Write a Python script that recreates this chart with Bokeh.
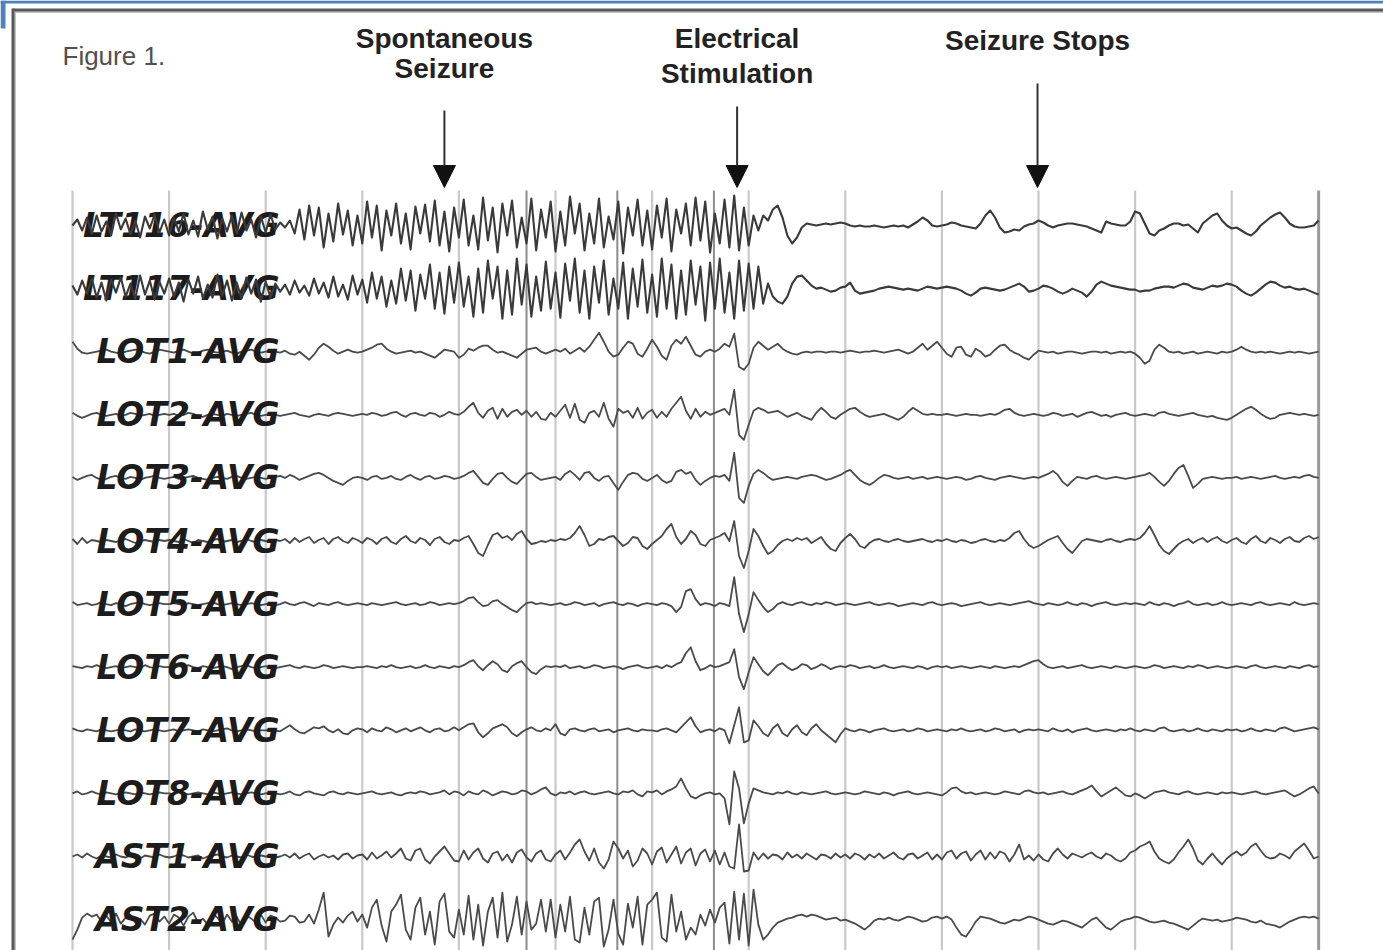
import numpy as np
from bokeh.plotting import figure
from bokeh.models import Range1d, Arrow, NormalHead
from bokeh.core.properties import value
from bokeh.embed import file_html
from bokeh.resources import INLINE

# ---------------- data ----------------
FS = 20  # samples per second (one sub-list = one second of trace)
CHANNELS = ["LT116-AVG", "LT117-AVG", "LOT1-AVG", "LOT2-AVG", "LOT3-AVG", "LOT4-AVG",
            "LOT5-AVG", "LOT6-AVG", "LOT7-AVG", "LOT8-AVG", "AST1-AVG", "AST2-AVG"]

LT116 = [
    [0, 6, -5, 8, -8, 10, -6, 4, -10, 12, -4, 7, -9, 5, -12, 9, -3, 11, -7, 6],
    [-10, 8, -6, 12, -9, 5, -11, 14, -4, 9, -13, 7, -6, 10, -8, 13, -5, 6, -12, 9],
    [-7, 11, -4, 3, -2, 5, -8, 16, -14, 20, -10, 18, -22, 12, -16, 22, -9, 15, -20, 10],
    [-18, 24, -12, 20, -25, 15, -10, 22, -18, 12, -24, 19, -8, 21, -16, 25, -20, 14, -26, 18],
    [-12, 26, -20, 10, -24, 28, -15, 18, -27, 22, -10, 25, -22, 8, -18, 27, -25, 16, -12, 24],
    [-26, 14, -20, 29, -8, 22, -25, 12, -18, 27, -22, 9, -14, 24, -28, 18, -10, 26, -20, 15],
    [-24, 20, -12, 27, -26, 16, -8, 22, -20, 28, -15, 24, -27, 12, -18, 26, -22, 30, -25, 18],
    [-20, 10, -5, 10, 5, 16, 20, 8, -10, -18, -12, -2, 2, 1, 0, 1, 2, 1, 2, 3],
    [2, 0, -1, 0, -1, -1, 0, -1, -2, -1, 0, -1, 0, -2, 1, 4, 8, 5, 0, -1],
    [0, 1, 3, 2, 0, -1, -2, -3, 2, 10, 15, 8, -2, -7, -6, -4, -5, -1, 1, 2],
    [5, 3, 0, -2, 0, 1, 2, 2, 1, 0, -1, -3, -5, -7, 4, 2, 1, 0, 0, 4],
    [14, 12, 2, -8, -10, -5, -3, 0, 2, 2, 0, 1, -3, -7, 2, 6, 10, 12, 5, 0],
    [-3, -2, -5, -8, -10, -6, 0, 4, 8, 11, 13, 8, 2, -1, -2, -2, -1, 0, 5],
]
LT117 = [
    [3, -6, 8, -5, 10, -9, 6, -12, 9, -4, 11, -8, 5, -10, 13, -6, 8, -11, 7, -5],
    [10, -8, 6, -13, 9, -5, 12, -10, 4, -9, 14, -7, 8, -12, 6, -10, 11, -5, 9, -13],
    [7, -9, 5, -3, 4, -6, 8, -4, 3, -7, 10, -5, 6, -9, 12, -8, 4, -11, 13, -6],
    [9, -14, 16, -10, 12, -18, 8, -15, 20, -12, 18, -22, 14, -10, 24, -20, 16, -25, 22, -14],
    [26, -18, 12, -28, 20, -24, 28, -10, 22, -30, 18, -26, 30, -16, 24, -28, 12, -22, 27, -20],
    [16, -29, 25, -12, 30, -24, 18, -30, 22, -14, 28, -26, 10, -20, 26, -30, 20, -18, 29, -24],
    [14, -28, 30, -20, 24, -30, 18, -26, 28, -16, 22, -32, 26, -20, 30, -24, 16, -30, 28, -22],
    [25, -20, 22, -15, 5, -8, -13, -15, -8, 5, 12, 13, 8, 3, 0, 1, -1, -3, -2, 1],
    [2, 6, -2, -5, -4, -3, -2, 0, 1, 2, 1, 0, -1, 0, -1, -2, 0, 2, 1, 0],
    [1, 2, 1, 0, -2, -5, -7, -4, 0, 1, 0, -1, -2, -1, 1, 3, 5, 2, -3, -2],
    [0, 3, 2, 0, -3, -5, -3, 0, -2, -4, -8, -3, 4, 7, 5, 3, 2, 1, 0, -1],
    [-1, -3, -2, -2, 0, 1, 2, 2, 1, 3, 5, 4, 1, 0, -1, 1, 3, 2, 3, 5],
    [4, 2, -2, -5, -7, -4, 0, 4, 7, 6, 3, 1, 2, 0, -1, 0, -2, -4, -6],
]
LOT1 = [
    [10, 3, -1, -2, -1, 0, 1, 2, 0, -1, -2, 0, 1, 2, 1, -1, -2, 0, 2, 1],
    [0, -1, 1, 2, 0, -2, -1, 1, 2, 0, -1, 0, 1, -1, -2, 0, 1, 2, 0, -1],
    [0, 1, 0, -1, 1, -2, -3, 0, -4, -8, -3, 4, 8, 5, 1, -2, 0, 2, 0, -1],
    [0, 2, 4, 7, 8, 3, 0, -2, -1, 0, 1, -1, 0, -2, -4, -6, -2, 2, 1, 0],
    [-6, -3, 3, 1, 4, 6, 6, 2, -1, 0, -2, -4, -6, -2, 2, 3, 4, 0, -2, 0],
    [2, 0, 3, -2, 1, 4, 0, 5, 12, 19, 10, 0, -5, -3, 4, 10, 8, -2, -5, 3],
    [12, 5, -4, -8, 6, 12, 8, 15, 6, -3, -5, 0, 2, 0, 3, 8, 5, 18, -15, -18],
    [-12, 4, 10, 6, 2, 5, 8, 3, 0, -2, -3, -1, 0, -1, 0, 0, -1, 0, 0, -1],
    [0, 1, 0, -1, 0, 0, 1, 0, -1, 0, 1, 2, 0, -2, 0, 4, 8, 2, 6, 10],
    [4, -2, -5, 4, 5, -3, -5, 3, 0, -5, -3, 2, 6, 7, 2, -1, -3, -6, -8, -3],
    [1, 0, -1, 0, -2, -1, 0, 0, -1, -2, -1, 0, 0, -1, 0, -2, -1, 0, -1, 0],
    [-2, -6, -12, -9, 2, 7, 4, 0, -1, 0, -2, -1, 0, -2, -1, 0, -1, -2, 0, -1],
    [0, 2, 5, 2, 0, -1, 0, -1, 0, -1, -2, -1, 0, -1, 0, -1, -2, -1, 0],
]
LOT2 = [
    [2, -1, -3, -1, 1, 2, 0, -1, 0, 1, -1, 0, 2, 1, -1, 0, 1, -1, 0, 1],
    [0, 1, -1, 0, 2, 1, -1, -2, 0, 1, 0, -1, 1, 0, -1, 0, 1, 2, 0, -1],
    [0, 1, 0, -1, 0, 1, 2, 0, -1, -2, 0, 1, 0, -1, 1, 2, 1, 0, -1, 0],
    [1, 0, 2, 1, -1, 0, 2, 3, 0, -2, 1, 2, 0, -1, 2, 1, -2, 0, 3, 1],
    [0, 3, 8, 12, 2, -3, 4, 7, -4, 6, -2, 3, 5, 0, 4, -2, 3, -4, -5, 2],
    [-2, 4, 10, -3, 11, -5, -8, 2, 4, -2, 12, -4, -12, 6, 2, 4, -3, 7, -4, 2],
    [5, -3, 3, -2, 6, 12, 18, 4, -4, 6, -2, 3, 0, 2, 4, 6, 0, 25, -20, -25],
    [-10, 4, 7, 5, 2, 3, 4, 1, -2, 0, 2, -1, -3, -5, 2, 7, 3, -2, -4, 0],
    [3, 6, 7, 3, 0, -2, -1, 0, 1, -1, -3, -5, -2, 3, 7, 4, 1, 0, 1, 0],
    [0, 1, 0, -1, 0, 1, 0, 0, -1, 0, 1, 0, 2, 5, 6, 2, 0, -1, 0, 1],
    [0, -1, 0, 2, 1, -1, 0, 1, -2, 0, 2, 3, 1, -1, 0, -2, 0, 1, 2, 0],
    [-1, 0, 1, 0, -1, 2, 3, 1, 0, -1, 0, 1, 2, 0, -1, -2, -1, -3, -4, -5],
    [-3, 0, 3, 6, 8, 5, 1, -2, -4, -3, 0, 1, 2, 1, 0, 1, 0, -1, 0],
]
LOT3 = [
    [1, -2, 0, 2, 3, 0, -2, -1, 1, 2, 0, -1, 1, 0, -2, 0, 1, 2, 0, -1],
    [0, 1, -1, 0, 1, 2, 0, -1, -2, 0, 1, 0, -1, 1, 2, 0, -1, 0, 1, 0],
    [-1, 0, 1, 2, 0, 3, 1, -2, 0, 2, 4, 5, 3, 0, -3, -5, -7, -3, 0, 1],
    [0, -2, 1, 2, -1, 0, 2, -1, -2, 1, 3, 0, -2, 1, 2, -1, 0, 2, 1, -1],
    [0, 2, 5, 7, 1, -5, -7, -1, 4, 5, 0, -4, -6, -1, 4, 5, 1, -2, -1, 0],
    [1, -2, 4, 7, 3, -2, 5, 6, 0, -3, 1, 2, -5, -12, -4, 3, 5, 4, -1, -3],
    [0, 3, -2, -5, -3, 6, 8, 4, 6, -2, -7, -3, 0, 2, 1, 3, -3, 25, -20, -25],
    [-8, 4, 8, 5, 1, -2, -1, 0, 1, 0, -1, 1, 2, 3, 2, 0, -2, -1, 1, 3],
    [6, 8, 3, -2, -5, -7, -4, 0, 3, 2, 0, -1, 0, 1, -1, 0, 1, -1, 0, 1],
    [0, -1, 0, 1, 0, -2, -1, 1, 2, 0, -1, -2, 0, 1, 2, 1, 0, -1, 0, 1],
    [0, 2, 4, 7, 3, -4, -8, -3, 1, 0, -1, 1, 2, 0, -1, 0, 1, 0, -1, 0],
    [1, 2, 3, 5, 1, -4, -8, -3, 4, 10, 13, 2, -10, -6, -1, 0, 1, 0, -1, 0],
    [0, 1, -1, 0, 1, 0, -1, 0, 1, 2, 0, -1, 0, 1, 0, 2, 3, 1, 0],
]
LOT4 = [
    [2, -3, 3, -2, 1, 0, -1, 1, 0, -1, 1, 2, 0, -2, 0, 1, 0, -1, 1, 0],
    [1, 0, -1, 2, 0, -2, 1, 0, -1, 1, 2, -1, 0, 1, -1, 0, 2, 0, -1, 1],
    [0, -1, 1, 0, 2, -2, 3, -1, 2, 4, -2, 1, 3, -3, 2, 4, 0, -2, 3, 1],
    [-2, 3, 1, -3, 2, 4, -1, -3, 2, 5, 0, -2, 3, 1, -4, 2, 4, -1, -3, 1],
    [0, 3, 5, -3, -12, -15, -4, 6, 8, 3, 5, 1, 7, 10, 2, -3, -2, 0, -1, 1],
    [0, 2, 1, 3, 8, 15, 6, -5, -3, 2, 1, 4, 5, 0, -5, -2, 4, 3, -5, -8],
    [-3, 1, 5, 12, 17, 4, -3, 2, 10, 6, -3, -5, 1, 3, 5, 8, 0, 20, -15, -27],
    [-10, 12, 5, -5, -13, -10, -4, 0, 2, 0, 3, 1, 3, -2, 1, 4, -3, -8, -10, -2],
    [3, 7, 2, -5, -7, -2, 1, 2, 0, -1, 1, 2, 0, -1, 0, 1, 2, 0, -1, 1],
    [0, 2, 0, -1, 1, 0, -2, -1, 1, 2, 0, -1, 1, 0, 3, 8, 10, 2, -4, -7],
    [-5, -2, 1, 3, 5, -2, -8, -12, -6, 0, 2, 1, 0, -1, 1, 2, 0, -1, 1, 2],
    [1, 3, 8, 15, 6, -4, -10, -13, -8, -3, 0, 2, -2, 1, 3, -1, 2, 4, 0, -2],
    [1, 3, -1, -3, 2, 5, 0, -2, 3, 1, -2, 2, 4, 0, -1, 3, 5, 2, 4],
]
LOT5 = [
    [2, -1, 0, 1, -1, 0, 2, 0, -1, 1, 0, -2, 0, 1, 2, 0, -1, 0, 1, 0],
    [0, 1, 0, -1, 1, 0, -1, 0, 1, 2, 0, -1, 0, 1, 0, -1, 0, 1, 0, -1],
    [0, 1, -1, 0, 2, 0, -1, 1, 2, 0, -2, 1, 0, -1, 1, 2, 0, -1, 0, 1],
    [0, -1, 1, 0, -1, 0, 1, 2, 0, -1, 0, 1, -1, 0, 2, 1, -1, 0, 1, 0],
    [1, 3, 6, 7, 2, -2, -1, 3, 4, 0, -3, -6, -8, -3, 1, 2, 0, 1, 0, -1],
    [0, 1, -1, 0, 2, 1, -1, 0, 1, -2, 0, 1, 2, 0, -1, 1, 0, -2, 0, 1],
    [0, -1, 1, 0, -2, -8, -3, 13, 15, 5, -1, 1, 0, -2, 1, 0, -2, 27, -10, -28],
    [-10, 12, 4, -3, -8, -5, 0, 2, 0, -1, 1, 2, 0, -1, 1, 0, 2, 1, -1, 0],
    [1, 0, -1, 0, 1, 2, 0, -1, 0, 1, 0, -2, -1, 0, 1, 0, -1, 1, 2, 0],
    [-1, 0, 1, 0, -2, -1, 0, 1, 2, 0, -1, 0, 1, 0, -1, 0, 1, 2, 3, 1],
    [0, -1, 1, 0, -1, 0, 2, 0, -1, 1, 0, -2, 0, 1, 2, 0, -1, 0, 1, 0],
    [1, 0, -1, 2, 0, -1, 1, 0, -2, 0, 1, 3, 0, -1, 0, 1, -1, 0, 2, 0],
    [-1, 0, 1, 0, -1, 1, 2, 0, -1, 0, 1, 0, -1, 2, 0, -1, 0, 1, 0],
]
LOT6 = [
    [1, 0, -1, 1, 0, 2, 0, -1, 0, 1, -1, 0, 1, 0, -1, 2, 0, -1, 1, 0],
    [0, -1, 1, 0, 2, 0, -1, 1, 0, -1, 0, 1, 0, -2, 0, 1, 2, 0, -1, 0],
    [1, 0, -1, 0, 1, 2, 0, -1, 1, 0, -1, 0, 2, 1, -1, 0, 1, 0, -1, 0],
    [0, 1, 0, -1, 1, 0, 2, 0, -1, 0, 1, -1, 0, 2, 0, -1, 1, 0, -1, 1],
    [0, 2, 5, 7, 1, -3, 2, 6, 3, -3, -5, 1, 4, 6, 0, -5, -7, -2, 1, 0],
    [1, 0, 2, -1, 0, 1, -1, 0, 2, 1, -1, 0, 1, 0, -2, 0, 1, 2, 0, -1],
    [0, 1, -1, 2, 0, 3, 5, 14, 20, 6, -3, -1, 2, 0, 1, 3, 5, 18, -10, -22],
    [-5, 10, 3, -4, -8, -3, 2, 4, 0, -3, -1, 3, 2, -2, 0, 3, 1, -2, 0, 1],
    [0, 2, 1, -1, 0, 1, -1, 0, 2, 0, -1, 0, 1, 0, -1, 1, 0, -2, 0, 1],
    [0, 1, -1, 0, 1, 0, -1, 0, 1, 0, -1, 1, 0, -1, 0, 1, 0, 2, 4, 6],
    [7, 3, 0, -1, 0, 1, -1, 0, 1, 2, 0, -1, 0, 1, 0, -1, 1, 0, -1, 0],
    [1, 0, -1, 0, 2, 1, -1, 0, 1, 0, -1, 1, 0, 2, 1, -1, 0, 1, 0, -1],
    [0, 1, 0, -1, 1, 2, 0, -1, 0, 1, 0, -1, 1, 0, -1, 1, 2, 0, 1],
]
LOT7 = [
    [2, 0, -1, 1, 0, -1, 1, 0, -1, 0, 1, 0, -1, 1, 0, -1, 0, 1, 0, -1],
    [0, 1, -1, 0, 1, 0, -1, 1, 0, -1, 0, 1, 2, 0, -1, 0, 1, 0, -1, 0],
    [0, 1, 0, -1, 2, 5, 1, -2, -3, 0, 3, 2, 4, 0, -2, 1, -3, -4, 0, 2],
    [1, -2, 2, 0, -1, 3, 1, -2, 0, 2, -1, 1, 3, 0, -2, 1, 2, -1, 0, 3],
    [0, 3, 6, 7, -2, -7, -3, 2, 4, 6, 3, -3, -6, -2, 1, 3, 0, -1, 2, 0],
    [6, -3, -5, 1, 2, 0, -1, 1, 2, -1, 0, 1, -2, 0, 1, 2, 0, -1, 1, 0],
    [0, -1, 1, 2, 0, -2, 3, 8, 13, 4, -2, 0, 1, -1, 2, 0, -13, 5, 23, -12],
    [-10, 10, 4, -3, -6, 2, 6, -3, -6, 1, 5, -2, -5, 2, 6, 0, -4, -8, -12, -4],
    [2, 0, -1, 1, 0, -2, 0, 1, 2, 0, -1, 0, 1, -1, 0, 2, 1, -1, 0, 1],
    [0, -1, 1, 0, 2, 0, -1, 0, 1, -1, 0, 2, 1, -1, 0, 1, -2, 0, 1, 0],
    [1, 0, -1, 2, 0, -1, 1, -2, 0, 1, 2, 0, -1, 0, 1, 0, -1, 1, 0, 2],
    [0, -1, 1, 0, -1, 2, 3, 0, -1, 0, 1, -1, 0, 2, 0, -1, 1, 0, -1, 1],
    [0, 1, -1, 0, 2, 0, -1, 1, 0, -1, 2, 3, 1, -1, 0, 1, 2, 3, 1],
]
LOT8 = [
    [0, 2, -1, 0, 2, 0, -1, 1, 0, -1, 0, 1, 0, -1, 1, 0, -1, 0, 1, 0],
    [0, -1, 1, 0, -1, 0, 1, 0, -1, 1, 0, -1, 0, 1, 0, -1, 0, 1, 0, -1],
    [0, 1, 0, -1, 0, 2, -1, -2, 1, 2, 0, -1, -2, 1, 2, 0, -1, 1, 0, -1],
    [0, 1, 2, 0, -1, 0, 1, -1, -2, 0, 1, 0, 2, 1, -1, 0, 1, 3, -1, 2],
    [1, -2, 2, 0, -1, 3, 1, -2, 0, 2, 1, -1, 0, 3, 2, -1, 1, 4, 6, 0],
    [-2, 1, 0, 2, -1, 1, 2, 0, -1, 0, 1, 2, 0, -1, 2, 1, 3, -1, -3, 2],
    [1, 3, -1, 2, 4, 7, 15, 5, -3, -5, -2, 0, 1, -1, 0, -5, -31, 22, 5, -30],
    [-10, 5, 3, 1, 0, -1, 1, 0, 2, 0, -1, 1, 0, -1, 0, 1, 2, 0, -1, 0],
    [1, 0, -1, 0, 2, 1, 0, -1, 1, 0, -2, 0, 1, 2, 0, -1, 0, 1, 0, -1],
    [-2, 1, 5, 6, 2, 0, 1, -1, 0, 1, 0, -1, 0, 2, 1, 0, -1, 2, 3, 1],
    [0, 1, -1, 0, 1, 2, 0, -1, 1, 3, 5, 8, 2, -3, 0, 3, 6, 2, -2, -3],
    [0, -2, -5, -2, 1, 2, 3, 1, 0, -1, 1, 2, 0, -1, 0, 1, 0, -1, 1, 0],
    [1, 0, -1, 0, 1, 2, 0, -1, 0, 1, 2, 3, 0, -3, -1, 2, 5, 7, 0],
]
AST1 = [
    [0, 2, -1, 3, 0, -2, 1, 0, -1, 2, 0, -1, 1, 0, -2, 1, 0, -1, 2, 0],
    [-1, 0, 2, 1, -1, 0, 1, -2, 0, 1, 2, 0, -1, 1, 0, -1, 2, 0, -1, 1],
    [0, 1, -1, 0, 2, -1, 3, -2, 1, 3, -3, 0, 2, -1, 1, -3, 2, 3, -2, 1],
    [2, -3, 4, -2, 1, 5, -1, 3, 8, -2, -4, 6, 8, -3, -7, 0, 5, 10, 3, -4],
    [-5, 6, -3, 4, 8, -2, -6, 3, 5, -4, 2, -6, 4, 7, -1, -5, 3, 6, -3, -5],
    [2, 6, -3, 4, 12, 17, 5, -4, 8, -6, -12, -3, 15, 8, -2, 6, -10, -4, 8, 3],
    [-8, 5, 9, -6, 2, 10, -7, 4, 8, -9, 3, 7, -5, 6, -8, 4, -10, -12, 32, -15],
    [-14, 4, -3, 3, -2, 2, 1, -3, 4, -1, 2, -2, 3, 0, -3, 2, 1, -2, 3, -1],
    [2, -2, 3, 1, -3, 2, -1, 3, -2, 1, 4, -1, -3, 2, 3, -2, 1, 4, -3, 2],
    [-3, 4, 6, -2, 3, 5, -4, 2, 6, -3, 4, -2, 5, 3, -5, 2, 12, -3, 1, -4],
    [2, -3, -5, 3, 8, 2, -2, 3, 1, -1, 2, 4, 0, -2, 3, 1, -3, -5, -2, 4],
    [6, 10, 12, 15, 5, -2, -5, -7, -3, 4, 10, 17, 8, -4, -8, -2, 3, -3, -8, -2],
    [2, 5, 1, 4, 10, 13, 6, 0, -2, -1, 3, 1, -2, 5, 9, 13, 6, -2, 0],
]
AST2 = [
    [-20, -10, 2, 6, 3, 5, -2, 4, -3, 6, -4, 2, 5, -3, 1, -5, 4, 6, -2, 3],
    [-4, 5, 2, -6, 3, 7, -3, 1, -5, 6, 2, -4, 5, -2, 3, -6, 4, 1, -3, 5],
    [-3, 4, 2, -2, -1, 4, 3, -3, -2, 5, -4, 10, 27, -17, -5, 2, -3, 4, 8, -2],
    [5, -8, 12, 20, -6, -22, 8, 15, 25, -10, -20, 12, 22, -15, 8, -25, 18, 26, -12, -18],
    [10, -15, 24, -20, 15, -26, 8, 22, -18, 27, -22, -5, 23, -15, 18, -10, -4, 20, -12, 20],
    [-18, 15, -12, 23, -20, -23, 12, -15, 18, 22, -27, -10, 20, -14, -25, 16, -8, 23, -25, 15],
    [20, 27, -18, -22, 25, -12, 8, -20, -8, -15, 5, -6, 10, -3, 12, 17, -24, 28, -20, 26],
    [-26, 30, -5, -20, -15, -8, -3, -1, 1, 2, 4, 5, 3, 5, 4, 2, 0, 1, 2, -1],
    [0, -2, -4, -7, -10, -6, -1, 1, 0, 2, 0, -1, 1, 3, 2, 0, -2, -1, 2, 3],
    [1, 3, 0, -8, -15, -17, -10, -2, 3, 2, 1, -1, -3, -4, -2, 0, -1, 1, 3, 2],
    [0, -2, -4, -5, -3, -1, -2, -4, -6, -8, -4, 0, 2, -3, -8, -10, -6, -2, 0, 1],
    [3, 2, 0, -2, -3, -2, -1, -3, -4, -6, -8, -10, -6, -2, 1, 0, -1, 0, -2, -1],
    [0, 2, 1, 0, -2, -3, -1, -4, -5, -6, -8, -5, -2, 0, 2, 3, 2, 3, 1],
]
TRACES = [LT116, LT117, LOT1, LOT2, LOT3, LOT4, LOT5, LOT6, LOT7, LOT8, AST1, AST2]

SECOND_LINES = list(range(13))          # one grid line per second
MARK_LINES = [4.70, 5.64, 6.64]         # extra marker lines during the seizure
END_TIME = 12.9

EVENT_TIMES = [3.85, 6.88, 9.99]
EVENT_TEXT = [["Spontaneous", "Seizure"], ["Electrical", "Stimulation"], ["Seizure Stops"]]

# ---------------- layout / style ----------------
SPACING = 63.1           # vertical distance between channels (px units)
PX_PER_S = 96.6
W, H = 1383, 950
X0 = -72 / PX_PER_S
X1 = X0 + W / PX_PER_S
Y1 = 225.0
Y0 = Y1 - H

p = figure(width=W, height=H, x_range=Range1d(X0, X1), y_range=Range1d(Y0, Y1),
           output_backend="svg", toolbar_location=None, min_border=0,
           x_axis_location=None, y_axis_location=None)
p.xgrid.visible = False
p.ygrid.visible = False
p.outline_line_color = None
p.background_fill_color = "white"
p.border_fill_color = "white"

# page frame (slide border)
p.line([X0, X1], [Y1 - 1.5, Y1 - 1.5], line_color="#4f81bd", line_width=3)
p.line([X0, X0 + 5 / PX_PER_S], [Y1 - 14, Y1 - 14], line_color="#4f81bd", line_width=28)
p.line([X0 + 14.5 / PX_PER_S, X1], [Y1 - 11.5, Y1 - 11.5], line_color="#c4c4c4", line_width=2)
p.line([X0 + 12.5 / PX_PER_S, X1], [Y1 - 9.5, Y1 - 9.5], line_color="#5a5a5a", line_width=3)
p.line([X0 + 14.5 / PX_PER_S] * 2, [Y1 - 11.5, Y0], line_color="#c4c4c4", line_width=2)
p.line([X0 + 12.5 / PX_PER_S] * 2, [Y1 - 8, Y0], line_color="#5a5a5a", line_width=3)

# grid lines
GRID_TOP = 35
p.segment(x0=SECOND_LINES, y0=[GRID_TOP] * len(SECOND_LINES), x1=SECOND_LINES,
          y1=[Y0 - 20] * len(SECOND_LINES), line_color="#c9c9c9", line_width=2.2)
p.segment(x0=MARK_LINES, y0=[GRID_TOP] * len(MARK_LINES), x1=MARK_LINES,
          y1=[Y0 - 20] * len(MARK_LINES), line_color="#8c8c8c", line_width=2)
p.segment(x0=[END_TIME], y0=[GRID_TOP], x1=[END_TIME], y1=[Y0 - 20],
          line_color="#9a9a9a", line_width=3)


def trace_xy(chunks, k):
    t = np.concatenate([s + np.arange(len(c)) / FS for s, c in enumerate(chunks)])
    v = np.concatenate([np.asarray(c, dtype=float) for c in chunks])
    return t, v - k * SPACING


TRACE_COLOR = "#4a4a4a"
# ordinary traces below the labels
for k, chunks in enumerate(TRACES):
    if k < 2:
        continue
    t, y = trace_xy(chunks, k)
    p.line(t, y, line_color=TRACE_COLOR, line_width=1.8, line_join="round")

# channel labels
LABEL_X = 2.143
p.text(x=[LABEL_X] * len(CHANNELS), y=[-k * SPACING for k in range(len(CHANNELS))],
       text=CHANNELS, text_font=value("DejaVu Sans"), text_font_style="bold italic",
       text_font_size="33px", text_align="right", text_baseline="middle",
       text_color="#1c1c1c")

# the two busy channels are drawn over their labels
for k in range(2):
    t, y = trace_xy(TRACES[k], k)
    p.line(t, y, line_color="#3a3a3a", line_width=2.1, line_join="round")

# figure caption
p.text(x=[-10 / PX_PER_S], y=[Y1 - 55], text=["Figure 1."], text_font=value("Liberation Sans"),
       text_font_size="26px", text_align="left", text_baseline="middle",
       text_color="#505050")

# event annotations (vertical centres of each text line, in reference pixels)
EV_CENTRES = [[38, 68], [37.5, 72.5], [40]]
EV_TOP = [110, 106, 83]
for t_ev, lines, cys, top in zip(EVENT_TIMES, EVENT_TEXT, EV_CENTRES, EV_TOP):
    p.text(x=[t_ev] * len(lines), y=[Y1 - c for c in cys], text=lines,
           text_font=value("Liberation Sans"), text_font_style="bold",
           text_font_size="28px", text_align="center", text_baseline="middle",
           text_color="#222222")
    p.add_layout(Arrow(end=NormalHead(size=22, fill_color="#111111", line_color="#111111"),
                       x_start=t_ev, y_start=Y1 - top, x_end=t_ev, y_end=Y1 - 187,
                       line_color="#333333", line_width=2))

open("out.html", "w").write(file_html(p, INLINE))
